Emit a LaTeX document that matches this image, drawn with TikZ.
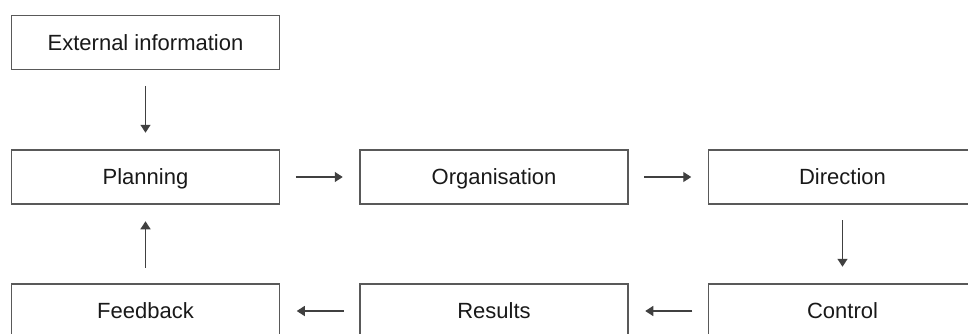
\documentclass[tikz,border=0pt]{standalone}
\usepackage{fontspec}
\setmainfont{Liberation Sans}
\usetikzlibrary{arrows.meta}

\begin{document}
\begin{tikzpicture}[x=1pt,y=-1pt,
    stagebox/.style={draw=black!65,line width=1.5pt,minimum width=268pt,minimum height=54pt,
      inner sep=0pt,text height=20pt,text depth=4.2pt,font=\fontsize{22}{26}\selectfont,text=black!90},
    flow/.style={draw=black!75,line width=1.3pt,-{Triangle[length=8pt,width=10pt]},
      shorten <=15.5pt,shorten >=16.5pt}]
    \useasboundingbox (0,0) rectangle (968,333);
    \node[stagebox] (ext) at (145.5,42.5) {External information};
    \node[stagebox] (plan) at (145.5,177) {Planning};
    \node[stagebox] (org) at (494,177) {Organisation};
    \node[stagebox] (dir) at (842.5,177) {Direction};
    \node[stagebox] (fb) at (145.5,311) {Feedback};
    \node[stagebox] (res) at (494,311) {Results};
    \node[stagebox] (ctrl) at (842.5,311) {Control};
    \draw[flow] (ext) -- (plan);
    \draw[flow] (plan) -- (org);
    \draw[flow] (org) -- (dir);
    \draw[flow] (dir) -- (ctrl);
    \draw[flow] (ctrl) -- (res);
    \draw[flow] (res) -- (fb);
    \draw[flow] (fb) -- (plan);
\end{tikzpicture}
\end{document}
